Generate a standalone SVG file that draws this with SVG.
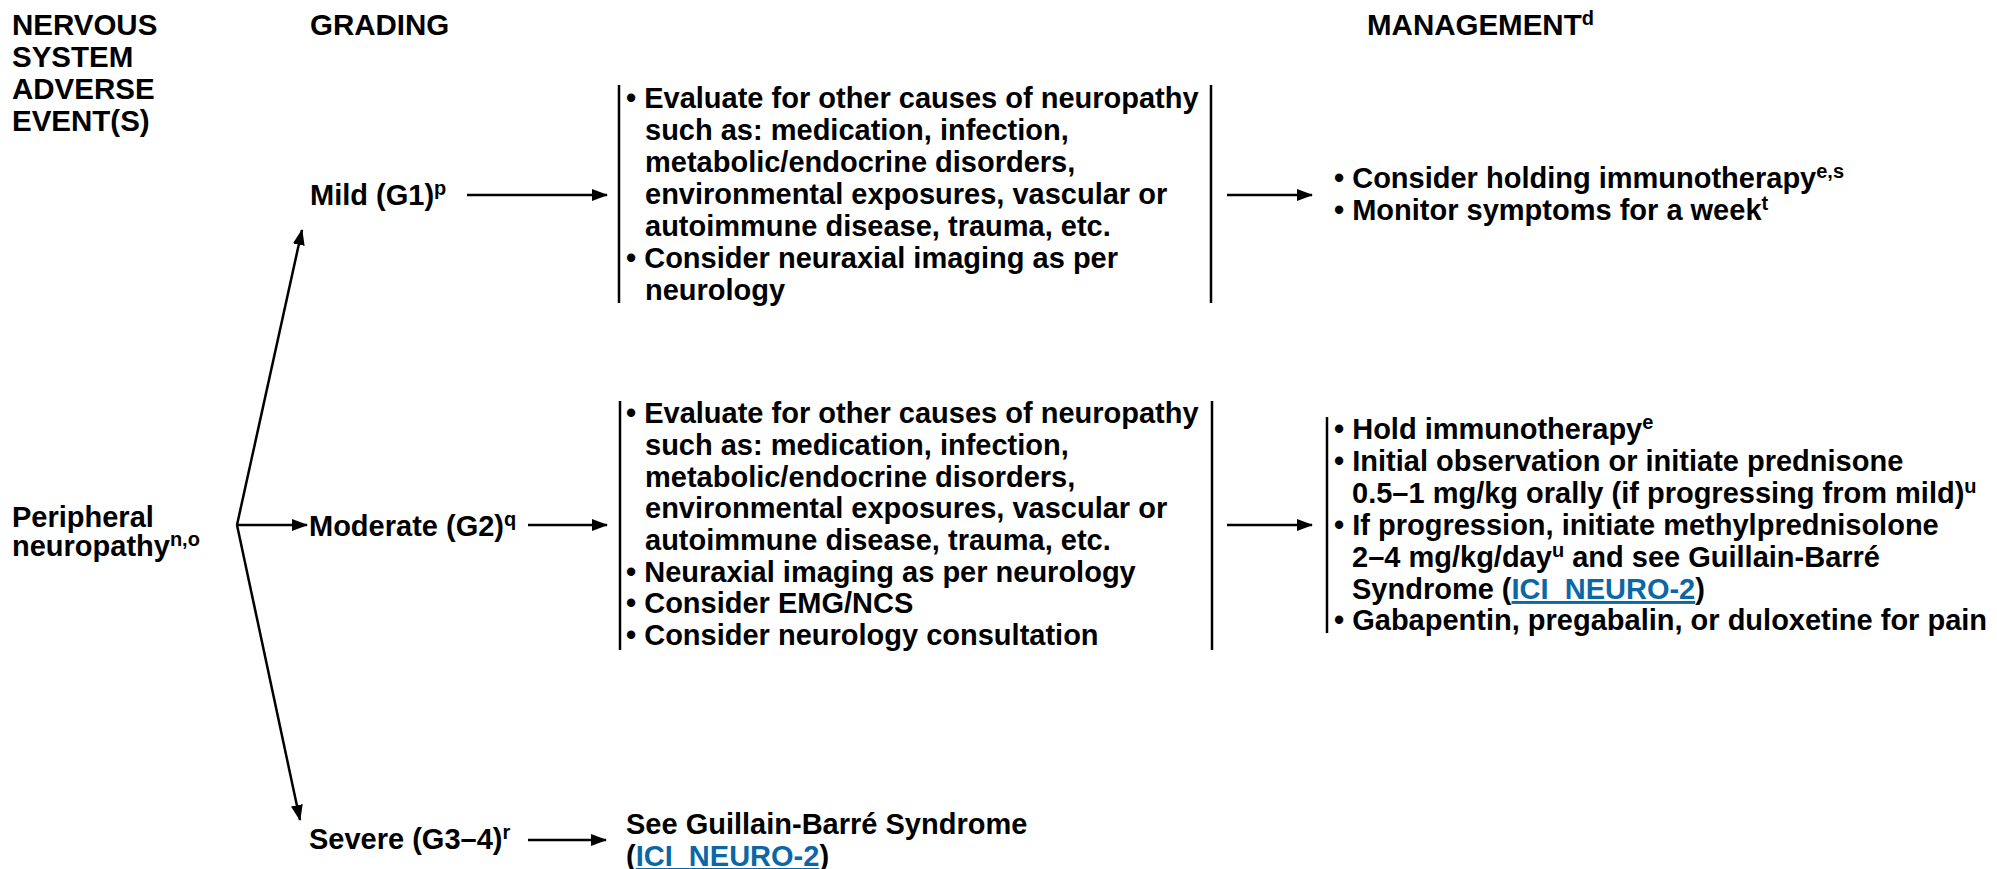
<svg xmlns="http://www.w3.org/2000/svg" width="1997" height="869" viewBox="0 0 1997 869">
<defs>
<marker id="ah" markerUnits="userSpaceOnUse" markerWidth="16" markerHeight="12" refX="15" refY="6" orient="auto">
<path d="M0,0 L16,6 L0,12 z" fill="#000"/>
</marker>
<style>
text{font-family:"Liberation Sans",Arial,Helvetica,sans-serif;font-weight:bold;font-size:29px;fill:#000}
.h{font-size:29.5px}
.sup{font-size:20px}
.lk{fill:#0b67a6;text-decoration:underline}
.c line{stroke:#000;stroke-width:2.5}
.bar{stroke:#000;stroke-width:2.5}
</style>
</defs>
<rect width="1997" height="869" fill="#fff"/>

<g id="header-event">
<text class="h" x="12" y="35">NERVOUS</text>
<text class="h" x="12" y="67">SYSTEM</text>
<text class="h" x="12" y="99">ADVERSE</text>
<text class="h" x="12" y="131">EVENT(S)</text>
</g>
<g id="header-grading"><text class="h" x="310" y="35">GRADING</text></g>
<g id="header-management"><text class="h" x="1367" y="35">MANAGEMENT<tspan class="sup" dy="-10">d</tspan></text></g>

<g id="node-peripheral">
<text x="12" y="527">Peripheral</text>
<text x="12" y="556">neuropathy<tspan class="sup" dy="-10">n,o</tspan></text>
</g>

<g id="node-mild"><text x="310" y="205">Mild (G1)<tspan class="sup" dy="-10">p</tspan></text></g>
<g id="node-moderate"><text x="309" y="536">Moderate (G2)<tspan class="sup" dy="-10">q</tspan></text></g>
<g id="node-severe"><text x="309" y="849">Severe (G3–4)<tspan class="sup" dy="-10">r</tspan></text></g>

<g id="node-mild-eval">
<line class="bar" x1="619" y1="85" x2="619" y2="303"/>
<line class="bar" x1="1211" y1="85" x2="1211" y2="303"/>
<text x="626" y="108">• Evaluate for other causes of neuropathy</text>
<text x="645" y="140">such as: medication, infection,</text>
<text x="645" y="172">metabolic/endocrine disorders,</text>
<text x="645" y="204">environmental exposures, vascular or</text>
<text x="645" y="236">autoimmune disease, trauma, etc.</text>
<text x="626" y="268">• Consider neuraxial imaging as per</text>
<text x="645" y="300">neurology</text>
</g>

<g id="node-moderate-eval">
<line class="bar" x1="620" y1="401" x2="620" y2="650"/>
<line class="bar" x1="1212" y1="401" x2="1212" y2="650"/>
<text x="626" y="423">• Evaluate for other causes of neuropathy</text>
<text x="645" y="455">such as: medication, infection,</text>
<text x="645" y="487">metabolic/endocrine disorders,</text>
<text x="645" y="518">environmental exposures, vascular or</text>
<text x="645" y="550">autoimmune disease, trauma, etc.</text>
<text x="626" y="582">• Neuraxial imaging as per neurology</text>
<text x="626" y="613">• Consider EMG/NCS</text>
<text x="626" y="645">• Consider neurology consultation</text>
</g>

<g id="node-mild-mgmt">
<text x="1334" y="188">• Consider holding immunotherapy<tspan class="sup" dy="-10">e,s</tspan></text>
<text x="1334" y="220">• Monitor symptoms for a week<tspan class="sup" dy="-10">t</tspan></text>
</g>

<g id="node-moderate-mgmt">
<line class="bar" x1="1327" y1="417" x2="1327" y2="633"/>
<text x="1334" y="439">• Hold immunotherapy<tspan class="sup" dy="-10">e</tspan></text>
<text x="1334" y="471">• Initial observation or initiate prednisone</text>
<text x="1352" y="503">0.5–1 mg/kg orally (if progressing from mild)<tspan class="sup" dy="-10">u</tspan></text>
<text x="1334" y="535">• If progression, initiate methylprednisolone</text>
<text x="1352" y="567">2–4 mg/kg/day<tspan class="sup" dy="-10">u</tspan><tspan dy="10"> and see Guillain-Barré</tspan></text>
<text x="1352" y="599">Syndrome (<tspan class="lk">ICI_NEURO-2</tspan>)</text>
<text x="1334" y="630">• Gabapentin, pregabalin, or duloxetine for pain</text>
</g>

<g id="node-severe-mgmt">
<text x="626" y="834">See Guillain-Barré Syndrome</text>
<text x="626" y="866">(<tspan class="lk">ICI_NEURO-2</tspan>)</text>
</g>

<g id="connectors" class="c">
<line x1="237" y1="525" x2="302" y2="230" marker-end="url(#ah)"/>
<line x1="237" y1="525" x2="307" y2="525" marker-end="url(#ah)"/>
<line x1="237" y1="525" x2="300" y2="820" marker-end="url(#ah)"/>
<line x1="467" y1="195" x2="607" y2="195" marker-end="url(#ah)"/>
<line x1="528" y1="525" x2="607" y2="525" marker-end="url(#ah)"/>
<line x1="528" y1="840" x2="606" y2="840" marker-end="url(#ah)"/>
<line x1="1227" y1="195" x2="1312" y2="195" marker-end="url(#ah)"/>
<line x1="1227" y1="525" x2="1312" y2="525" marker-end="url(#ah)"/>
</g>
</svg>
